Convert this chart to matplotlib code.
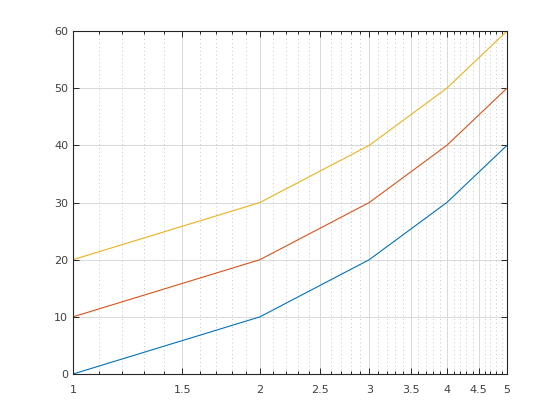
import matplotlib
matplotlib.use("Agg")
import matplotlib.pyplot as plt
from matplotlib.ticker import FixedLocator, NullFormatter

x = [1, 2, 3, 4, 5]
y_blue = [0, 10, 20, 30, 40]
y_red = [10, 20, 30, 40, 50]
y_yellow = [20, 30, 40, 50, 60]
xticks = [1, 1.5, 2, 2.5, 3, 3.5, 4, 4.5, 5]
xticklabels = ["1", "1.5", "2", "2.5", "3", "3.5", "4", "4.5", "5"]
yticks = [0, 10, 20, 30, 40, 50, 60]

fig = plt.figure(figsize=(5.6, 4.2), dpi=100)
ax = fig.add_axes([0.1304, 0.1095, 0.775, 0.8167])
ax.set_xscale('log')
ax.plot(x, y_blue, color='#0072BD', lw=0.8)
ax.plot(x, y_red, color='#D95319', lw=0.8)
ax.plot(x, y_yellow, color='#EDB120', lw=0.8)
ax.set_xlim(1, 5)
ax.set_ylim(0, 60)
ax.xaxis.set_major_locator(FixedLocator(xticks))
ax.set_xticklabels(xticklabels)
minors = [round(1 + 0.1 * i, 1) for i in range(1, 40)]
minors = [m for m in minors if m not in xticks]
ax.xaxis.set_minor_locator(FixedLocator(minors))
ax.xaxis.set_minor_formatter(NullFormatter())
ax.set_yticks(yticks)
ax.grid(True, which='major', color='#d9d9d9', lw=0.7, ls='-')
ax.grid(True, which='minor', axis='x', color='#c8c8c8', lw=0.7, ls=(0, (1, 3)))
ax.set_axisbelow(True)
ax.tick_params(which='both', direction='in', top=True, right=True, colors='#262626',
               labelcolor='#404040', labelsize=8, width=0.7)
ax.tick_params(which='major', length=4)
ax.tick_params(which='minor', length=2)
ax.tick_params(axis='x', pad=8)
for s in ax.spines.values():
    s.set_color('#262626')
    s.set_linewidth(0.8)
fig.savefig('out.png', dpi=100)
